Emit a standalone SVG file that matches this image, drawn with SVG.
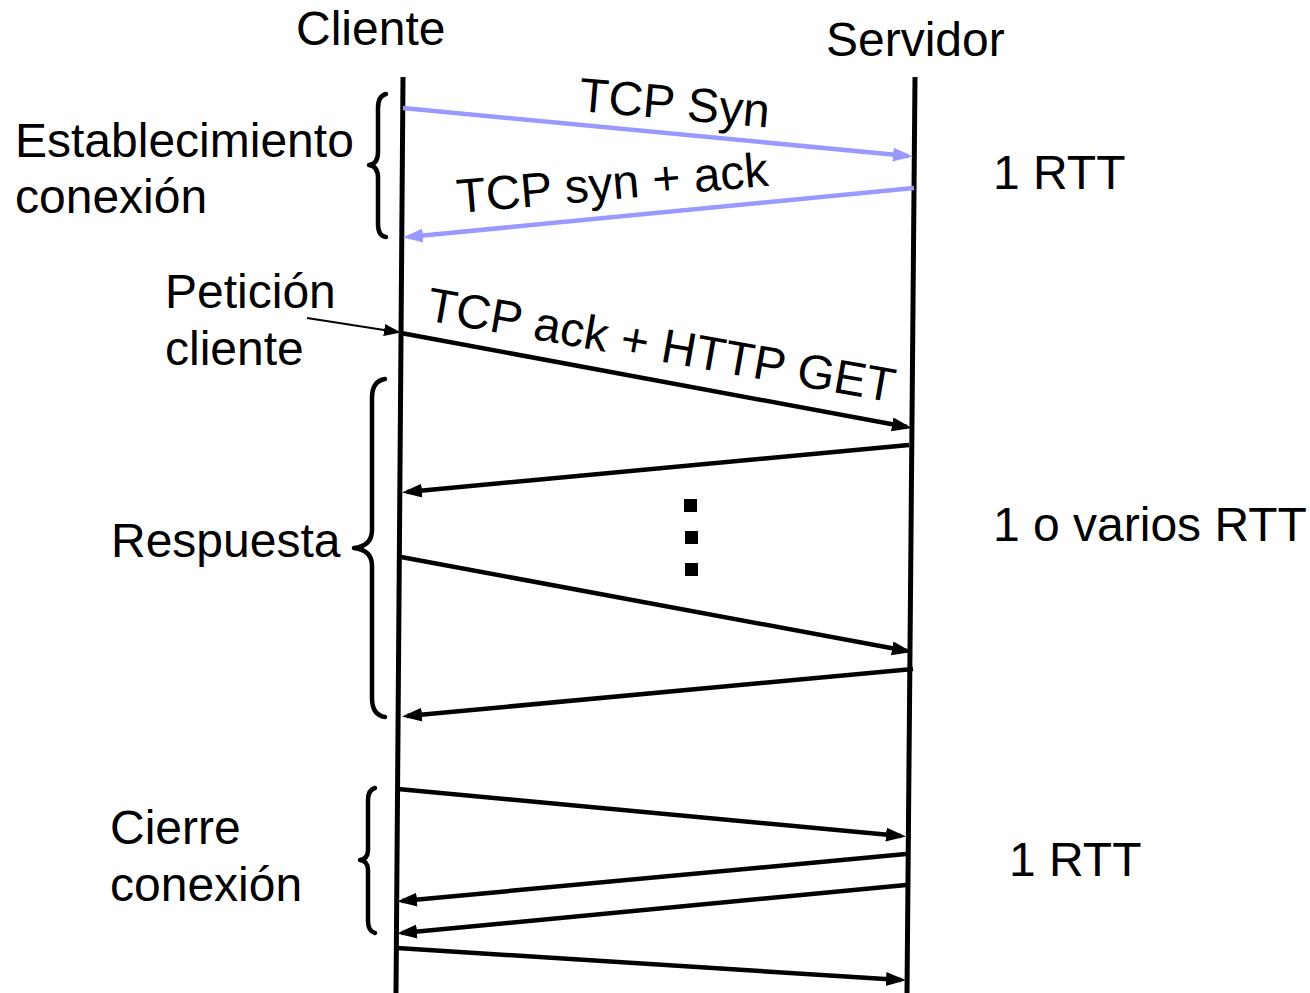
<svg xmlns="http://www.w3.org/2000/svg" width="1310" height="993" viewBox="0 0 1310 993">
<style>
text{font-family:"Liberation Sans",Arial,sans-serif;font-size:48px;fill:#000}
.life{stroke:#000;stroke-width:5;fill:none}
.msg{stroke:#000;stroke-width:4.5;fill:none}
.syn{stroke:#9999ff;stroke-width:4.5;fill:none}
.brace{stroke:#000;stroke-width:4.5;fill:none;stroke-linecap:round;stroke-linejoin:round}
</style>
<defs>
<marker id="ah" markerUnits="userSpaceOnUse" markerWidth="22" markerHeight="16" refX="15" refY="7" orient="auto">
<path d="M0,0 L20,7 L0,14 z" fill="#000"/>
</marker>
<marker id="ahb" markerUnits="userSpaceOnUse" markerWidth="22" markerHeight="16" refX="15" refY="7" orient="auto">
<path d="M0,0 L20,7 L0,14 z" fill="#9999ff"/>
</marker>
<marker id="ahs" markerUnits="userSpaceOnUse" markerWidth="18" markerHeight="14" refX="13" refY="6" orient="auto">
<path d="M0,0 L17,6 L0,12 z" fill="#000"/>
</marker>
</defs>

<g id="cliente">
<line class="life" x1="403" y1="77" x2="396" y2="993"/>
<text x="296" y="45">Cliente</text>
</g>
<g id="servidor">
<line class="life" x1="915" y1="77" x2="907" y2="993"/>
<text x="826" y="56">Servidor</text>
</g>

<g id="establecimiento">
<path class="brace" d="M386,94 Q378,96 378,108 L378,152 Q378,164 369,165 Q378,166 378,178 L378,224 Q378,236 386,237"/>
<text x="15" y="157">Establecimiento</text>
<text x="15" y="213">conexión</text>
</g>
<g id="rtt1"><text x="993" y="189">1 RTT</text></g>

<g id="peticion">
<text x="165" y="308">Petición</text>
<text x="165" y="365">cliente</text>
</g>

<g id="respuesta">
<path class="brace" d="M385,379 Q372,381 372,398 L372,530 Q372,546 354,548 Q372,550 372,566 L372,698 Q372,715 385,717"/>
<text x="111" y="557">Respuesta</text>
</g>
<g id="rtt-varios"><text x="993" y="541">1 o varios RTT</text></g>

<g id="dots">
<rect x="684" y="499" width="13" height="13"/>
<rect x="685" y="531" width="13" height="13"/>
<rect x="685" y="563" width="13" height="13"/>
</g>

<g id="cierre">
<path class="brace" d="M375,788 Q368,790 368,800 L368,850 Q368,859 360,860 Q368,861 368,870 L368,921 Q368,931 375,933"/>
<text x="110" y="844">Cierre</text>
<text x="110" y="901">conexión</text>
</g>
<g id="rtt2"><text x="1009" y="876">1 RTT</text></g>

<g id="labels">
<text x="578" y="111" transform="rotate(5 578 111)">TCP Syn</text>
<text x="458" y="213" transform="rotate(-5 458 213)">TCP syn + ack</text>
<text x="425" y="320" transform="rotate(10 425 320)">TCP ack + HTTP GET</text>
</g>

<g id="connectors">
<line class="syn" x1="403" y1="108" x2="908" y2="156" marker-end="url(#ahb)"/>
<line class="syn" x1="914" y1="188" x2="408" y2="237" marker-end="url(#ahb)"/>
<line stroke="#000" stroke-width="2" x1="307" y1="318" x2="397" y2="332" marker-end="url(#ahs)"/>
<line class="msg" x1="401" y1="333" x2="907" y2="427" marker-end="url(#ah)"/>
<line class="msg" x1="909" y1="445" x2="407" y2="492" marker-end="url(#ah)"/>
<line class="msg" x1="401" y1="557" x2="907" y2="651" marker-end="url(#ah)"/>
<line class="msg" x1="913" y1="669" x2="407" y2="716" marker-end="url(#ah)"/>
<line class="msg" x1="398" y1="789" x2="901" y2="836" marker-end="url(#ah)"/>
<line class="msg" x1="906" y1="854" x2="402" y2="901" marker-end="url(#ah)"/>
<line class="msg" x1="906" y1="885" x2="402" y2="933" marker-end="url(#ah)"/>
<line class="msg" x1="397" y1="948" x2="901" y2="980" marker-end="url(#ah)"/>
</g>
</svg>
